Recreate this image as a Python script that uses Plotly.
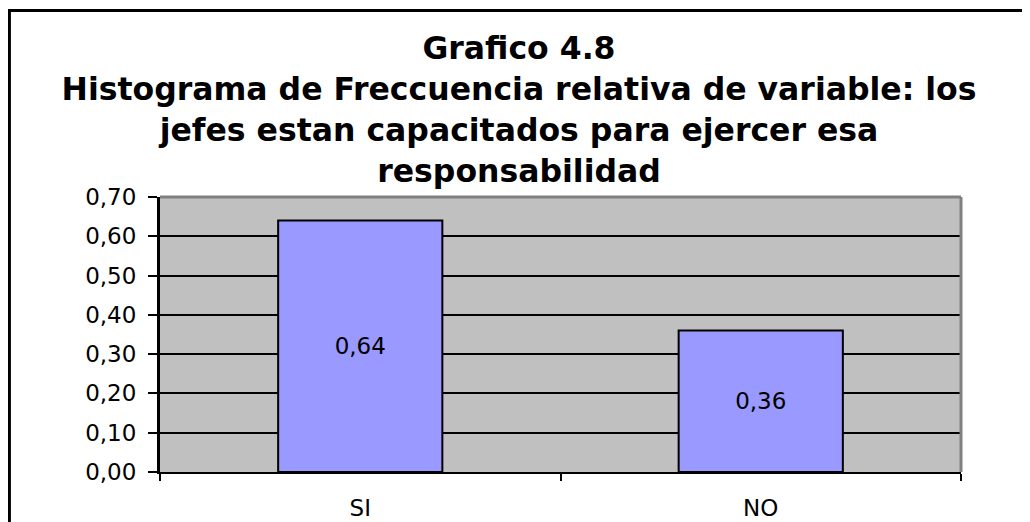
import plotly.graph_objects as go

categories = ["SI", "NO"]
values = [0.64, 0.36]
title_lines = [
    "Grafico 4.8",
    "Histograma de Freccuencia relativa de variable: los",
    "jefes estan capacitados para ejercer esa",
    "responsabilidad",
]

fig = go.Figure()
fig.add_trace(go.Bar(
    x=categories,
    y=values,
    marker=dict(color="#9999FF", line=dict(color="black", width=2)),
    texttemplate="%{y:.2f}",
    textposition="inside",
    insidetextanchor="middle",
    textangle=0,
    textfont=dict(family="DejaVu Sans", size=23, color="black"),
    hoverinfo="skip",
))

# page has an 8px body margin, so the figure is sized/offset to compensate
fig.update_layout(
    width=1022,
    height=514,
    margin=dict(l=152, r=69, t=189, b=50, autoexpand=False),
    paper_bgcolor="white",
    plot_bgcolor="#C0C0C0",
    separators=", ",
    bargap=0.59,
    showlegend=False,
    title=dict(
        text="<br>".join(title_lines),
        x=0.5,
        xanchor="center",
        y=0.9,
        yanchor="top",
        font=dict(family="DejaVu Sans", size=31.5, color="black", weight="bold"),
    ),
    font=dict(family="DejaVu Sans", color="black"),
)

fig.update_yaxes(
    range=[0, 0.7],
    dtick=0.1,
    tick0=0,
    tickformat=".2f",
    showgrid=True,
    gridcolor="black",
    gridwidth=2,
    zeroline=False,
    showline=True,
    linecolor="black",
    linewidth=3,
    ticks="outside",
    ticklen=9,
    tickwidth=2,
    tickcolor="black",
    ticklabelstandoff=7,
    tickfont=dict(family="DejaVu Sans", size=23, color="black"),
    automargin=False,
    fixedrange=True,
)
fig.update_xaxes(
    showline=True,
    linecolor="black",
    linewidth=2,
    ticks="outside",
    tickson="boundaries",
    ticklen=7,
    tickwidth=2,
    tickcolor="black",
    ticklabelstandoff=14,
    tickfont=dict(family="DejaVu Sans", size=23, color="black"),
    showgrid=False,
    automargin=False,
    fixedrange=True,
)

# gray top/right border of the plot area
fig.add_shape(type="line", xref="paper", yref="paper", x0=0, x1=1, y0=1, y1=1,
              line=dict(color="#808080", width=3), layer="above")
fig.add_shape(type="line", xref="paper", yref="paper", x0=1, x1=1, y0=0, y1=1,
              line=dict(color="#808080", width=3), layer="above")
# outer chart border (left and top visible)
fig.add_shape(type="rect", xref="paper", yref="paper",
              x0=-0.188, x1=1.2, y0=-0.5, y1=1.678,
              line=dict(color="black", width=3), layer="above")

fig.write_html("out.html")
